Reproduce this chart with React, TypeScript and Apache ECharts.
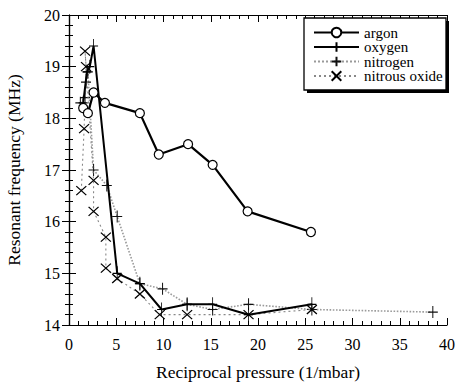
import React, { useEffect, useRef } from "react";
import * as echarts from "echarts";

// Resonant frequency (MHz) against reciprocal pressure (1/mbar)
const argon: [number, number][] = [
  [1.5, 18.2], [2.0, 18.1], [2.6, 18.5], [3.8, 18.3], [7.5, 18.1],
  [9.5, 17.3], [12.6, 17.5], [15.2, 17.1], [18.9, 16.2], [25.6, 15.8],
];
const oxygen: [number, number][] = [
  [1.5, 18.3], [1.9, 18.9], [2.2, 19.0], [2.6, 19.4], [5.1, 15.0], [7.5, 14.8],
  [9.8, 14.3], [12.5, 14.4], [15.2, 14.4], [19.0, 14.2], [25.7, 14.4],
];
const nitrogen: [number, number][] = [
  [1.2, 18.3], [1.7, 18.4], [1.8, 18.7], [2.0, 18.9], [2.6, 17.0], [4.0, 16.7],
  [5.1, 16.1], [7.5, 14.8], [9.9, 14.7], [12.5, 14.4], [15.2, 14.3], [19.0, 14.4],
  [25.7, 14.3], [38.5, 14.25],
];
const nitrousOxide: [number, number][] = [
  [1.3, 16.6], [1.6, 17.8], [1.8, 19.0], [1.7, 19.3], [2.6, 16.8], [2.6, 16.2],
  [3.9, 15.7], [3.9, 15.1], [5.1, 14.9], [7.5, 14.6], [9.6, 14.2], [12.5, 14.2],
  [19.0, 14.2], [25.7, 14.3],
];
const seriesNames = ["argon", "oxygen", "nitrogen", "nitrous oxide"];

const FONT = "Liberation Serif";
const PLUS = "path://M5,0 L5,12 M0,6 L10,6";
const CROSS = "path://M0,0 L10,10 M10,0 L0,10";

// one legend block per entry, stacked inside the framed key
const LEGEND_TOPS = [25, 39.5, 54, 68.5];

export default function App() {
  const ref = useRef<HTMLDivElement>(null);
  useEffect(() => {
    if (!ref.current) return;
    const chart = echarts.init(ref.current, undefined, { renderer: "svg" });
    const axisCommon = {
      axisLine: { lineStyle: { color: "#000", width: 1.2 } },
      axisTick: { inside: true, length: 7, lineStyle: { color: "#000" } },
      minorTick: { show: true, splitNumber: 5, length: 4, lineStyle: { color: "#000" } },
      splitLine: { show: false },
    };
    const nameStyle = { color: "#000", fontFamily: FONT, fontSize: 17.5 };
    chart.setOption({
      animation: false,
      backgroundColor: "#fff",
      textStyle: { fontFamily: FONT },
      grid: { left: 69, right: 11, top: 15, bottom: 59, outerBoundsMode: "none" },
      xAxis: [
        {
          type: "value", min: 0, max: 40, interval: 5, position: "bottom",
          ...axisCommon,
          axisLabel: { margin: 11, color: "#000", fontFamily: FONT, fontSize: 16 },
          name: "Reciprocal pressure (1/mbar)", nameLocation: "middle", nameGap: 38,
          nameTextStyle: nameStyle,
        },
        {
          type: "value", min: 0, max: 40, interval: 5, position: "top",
          ...axisCommon, axisLabel: { show: false },
        },
      ],
      yAxis: [
        {
          type: "value", min: 14, max: 20, interval: 1, position: "left",
          ...axisCommon,
          axisLabel: { margin: 9, color: "#000", fontFamily: FONT, fontSize: 16 },
          name: "Resonant frequency (MHz)", nameLocation: "middle", nameGap: 46,
          nameTextStyle: nameStyle,
        },
        {
          type: "value", min: 14, max: 20, interval: 1, position: "right",
          ...axisCommon, axisLabel: { show: false },
        },
      ],
      legend: seriesNames.map((name, i) => ({
        left: 313, top: LEGEND_TOPS[i], orient: "vertical",
        padding: 0, itemWidth: 45, itemHeight: 12,
        textStyle: { color: "#000", fontFamily: FONT, fontSize: 15 },
        data: [name],
      })),
      graphic: [
        { type: "rect", shape: { x: 307, y: 21, width: 142, height: 72 }, style: { fill: "#000" }, z: 0 },
        {
          type: "rect", shape: { x: 304, y: 18, width: 142, height: 72 },
          style: { fill: "#fff", stroke: "#000", lineWidth: 1.3 }, z: 1,
        },
      ],
      series: [
        {
          name: "nitrogen", type: "line", data: nitrogen, symbol: PLUS, symbolSize: [10, 12],
          lineStyle: { color: "#9a9a9a", width: 1.6, type: "dotted" },
          itemStyle: { color: "transparent", borderColor: "#111", borderWidth: 1.1 },
          z: 2,
        },
        {
          name: "nitrous oxide", type: "line", data: nitrousOxide, symbol: CROSS, symbolSize: [10, 9],
          lineStyle: { color: "#888", width: 1.1, type: [2, 3] },
          itemStyle: { color: "transparent", borderColor: "#000", borderWidth: 1.2 },
          z: 3,
        },
        {
          name: "oxygen", type: "line", data: oxygen, symbol: PLUS, symbolSize: [9, 14],
          lineStyle: { color: "#000", width: 2 },
          itemStyle: { color: "transparent", borderColor: "#000", borderWidth: 1 },
          z: 4,
        },
        {
          name: "argon", type: "line", data: argon, symbol: "circle", symbolSize: 9,
          lineStyle: { color: "#000", width: 2.2 },
          itemStyle: { color: "#fff", borderColor: "#000", borderWidth: 1.2 },
          z: 5,
        },
      ],
    });
    return () => chart.dispose();
  }, []);
  return (
    <div
      ref={ref}
      style={{ position: "absolute", left: 0, top: 0, width: 458, height: 384 }}
    />
  );
}
